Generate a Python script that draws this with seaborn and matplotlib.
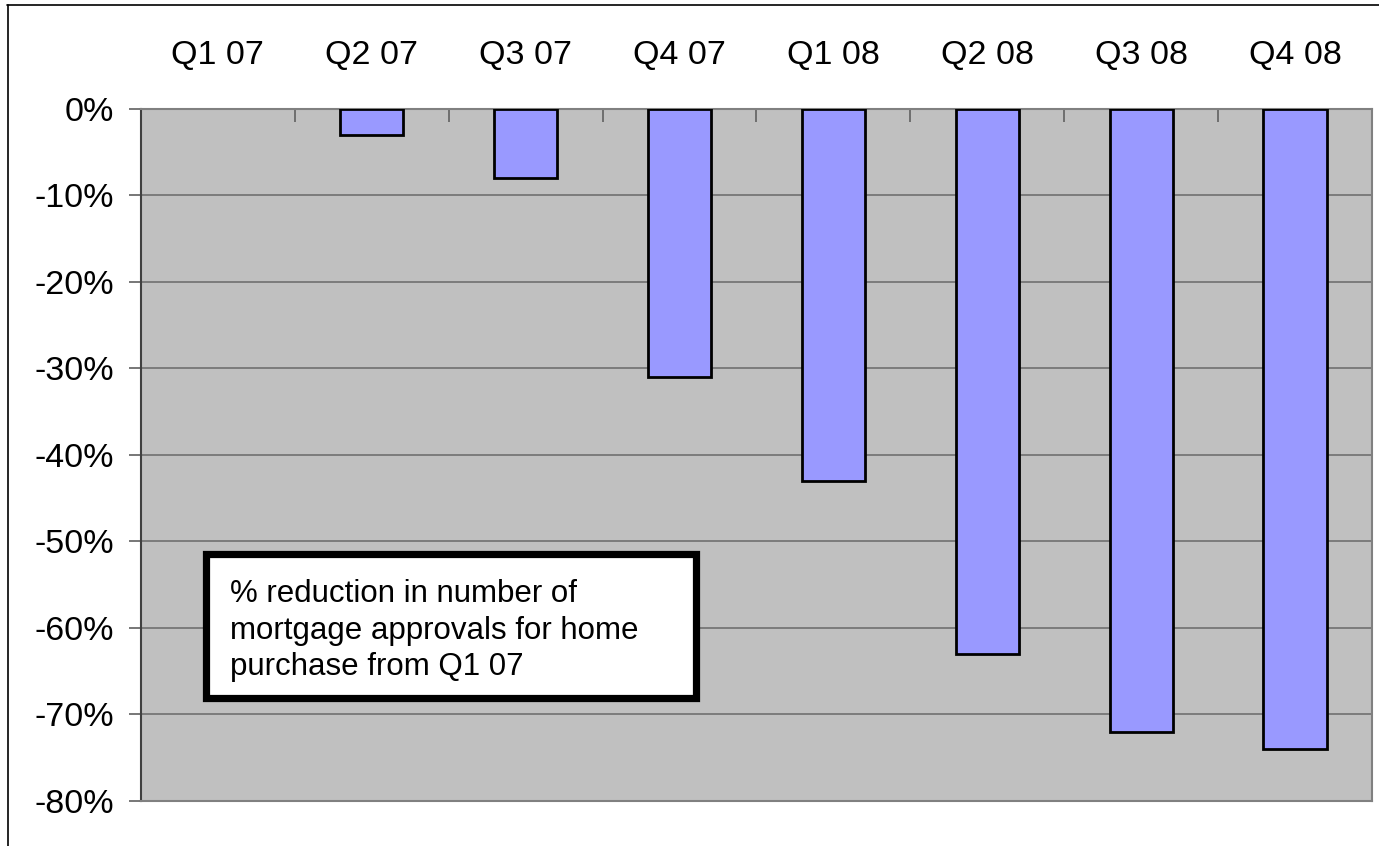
import matplotlib
matplotlib.use("Agg")
import matplotlib.pyplot as plt
import seaborn as sns
import pandas as pd
from matplotlib.lines import Line2D
from matplotlib.patches import Rectangle

categories = ["Q1 07", "Q2 07", "Q3 07", "Q4 07", "Q1 08", "Q2 08", "Q3 08", "Q4 08"]
values = [0, -3, -8, -31, -43, -63, -72, -74]
ytick_values = [0, -10, -20, -30, -40, -50, -60, -70, -80]
ytick_labels = ["0%", "-10%", "-20%", "-30%", "-40%", "-50%", "-60%", "-70%", "-80%"]
note = "% reduction in number of\nmortgage approvals for home\npurchase from Q1 07"

sns.set_theme(style="white")
plt.rcParams['font.family'] = ['Liberation Sans', 'DejaVu Sans']

df = pd.DataFrame({"quarter": categories, "change": values})

fig = plt.figure(figsize=(13.79, 8.46), dpi=100)
ax = fig.add_axes([0.1022, 0.0532, 0.8927, 0.8180])
ax.set_facecolor("#C0C0C0")

sns.barplot(data=df, x="quarter", y="change", color="#9999FF", saturation=1,
            edgecolor="black", linewidth=2, width=0.41, ax=ax, zorder=3)
for p in ax.patches:
    if p.get_height() == 0:
        p.set_linewidth(0)

ax.set_xlim(-0.5, len(categories) - 0.5)
ax.set_ylim(-80, 0)
ax.set_yticks(ytick_values)
ax.set_yticklabels(ytick_labels, fontsize=24.5, color="black")
ax.yaxis.grid(True, color="#707070", linewidth=1.2, zorder=1)
ax.set_axisbelow(True)
ax.set_xlabel("")
ax.set_ylabel("")

ax.xaxis.tick_top()
ax.set_xticks(range(len(categories)))
ax.set_xticklabels(categories, fontsize=24.5, color="black")
ax.set_xticks([i - 0.5 for i in range(len(categories) + 1)], minor=True)
ax.tick_params(axis="x", which="major", length=0, pad=27, top=True, bottom=False)
ax.tick_params(axis="x", which="minor", direction="in", length=9, width=1.2,
               color="#606060", top=True, bottom=False)
ax.tick_params(axis="y", which="major", direction="out", length=9, width=1.2,
               color="#606060", left=True, pad=10.5)

for side in ["top", "right", "bottom"]:
    ax.spines[side].set_color("#808080")
    ax.spines[side].set_linewidth(1.5)
ax.spines["left"].set_color("#404040")
ax.spines["left"].set_linewidth(1.5)

# annotation box
ax.add_patch(Rectangle((0.0532, 0.1482), 0.3973, 0.2081, transform=ax.transAxes,
                       facecolor="white", edgecolor="black", linewidth=5.2, zorder=5))
ax.text(0.0723, 0.246, note, transform=ax.transAxes, fontsize=22.5, ha="left",
        va="center", linespacing=1.29, zorder=6, color="black")

# outer frame (top and left)
fig.add_artist(Line2D([0.005, 1.0], [0.9935, 0.9935], transform=fig.transFigure,
                      color="black", linewidth=1.2))
fig.add_artist(Line2D([0.0055, 0.0055], [0.0, 0.9935], transform=fig.transFigure,
                      color="black", linewidth=1.2))

fig.savefig("out.png", dpi=100)
